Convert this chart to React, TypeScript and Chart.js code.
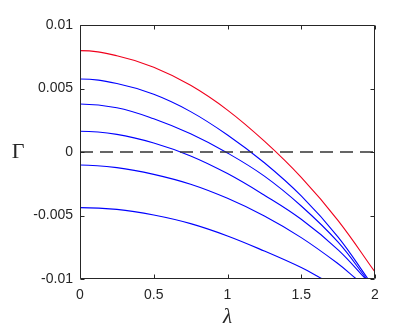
import React, { useEffect, useRef } from "react";
import { Chart, registerables } from "chart.js";

Chart.register(...registerables);

// λ values read at sample positions; blue curves end where they leave the axes (Γ = -0.01)
const redLambda = [0, 0.25, 0.5, 0.75, 1, 1.25, 1.5, 1.75, 2];
const redGamma = [0.00798, 0.00758, 0.00668, 0.00525, 0.0033, 0.00085, -0.002, -0.0054, -0.00945];

const blue1Lambda = [0, 0.25, 0.5, 0.75, 1, 1.25, 1.5, 1.75, 1.953];
const blue1Gamma = [0.00575, 0.00539, 0.00454, 0.00318, 0.00134, -0.00085, -0.00346, -0.0067, -0.01];

const blue2Lambda = [0, 0.25, 0.5, 0.75, 1, 1.25, 1.5, 1.75, 1.944];
const blue2Gamma = [0.00378, 0.00349, 0.00262, 0.00143, -0.00008, -0.0019, -0.00425, -0.0071, -0.01];

const blue3Lambda = [0, 0.25, 0.5, 0.75, 1, 1.25, 1.5, 1.75, 1.937];
const blue3Gamma = [0.00163, 0.00139, 0.00071, -0.00031, -0.0017, -0.0034, -0.0053, -0.0077, -0.01];

const blue4Lambda = [0, 0.25, 0.5, 0.75, 1, 1.25, 1.5, 1.75, 1.874];
const blue4Gamma = [-0.00102, -0.00123, -0.00176, -0.00254, -0.00365, -0.00504, -0.00674, -0.0088, -0.01];

const blue5Lambda = [0, 0.25, 0.5, 0.75, 1, 1.25, 1.5, 1.644];
const blue5Gamma = [-0.00438, -0.00452, -0.00496, -0.00564, -0.00661, -0.0078, -0.0091, -0.01];

const zeroLambda = [0, 2];
const zeroGamma = [0, 0];

const xTickValues = [0, 0.5, 1, 1.5, 2];
const xTickLabels = ["0", "0.5", "1", "1.5", "2"];
const yTickValues = [-0.01, -0.005, 0, 0.005, 0.01];
const yTickLabels = ["-0.01", "-0.005", "0", "0.005", "0.01"];

const xTitle = "λ";
const yTitle = "Γ";

const toPoints = (xs: number[], ys: number[]) => xs.map((x, i) => ({ x, y: ys[i] }));

const AXIS_COLOR = "#262626";

// curves leave λ = 0 horizontally: flatten the first bezier handle of each curve
const flatStartPlugin = {
  id: "flatStart",
  beforeDatasetDraw(chart: any, args: any) {
    const meta = args.meta;
    const line = meta.dataset;
    if (!line || !meta.data || meta.data.length < 3 || !line.options || !line.options.tension) return;
    line.updateControlPoints(chart.chartArea, "x");
    const p0 = meta.data[0];
    const p1 = meta.data[1];
    p0.cp2x = p0.x + (p1.x - p0.x) / 2.5;
    p0.cp2y = p0.y;
  },
};

const framePlugin = {
  id: "frame",
  afterDatasetsDraw(chart: any) {
    const { ctx, chartArea: a, scales } = chart;
    const xs = scales.x;
    const ys = scales.y;
    const L = Math.round(a.left) + 0.5;
    const R = Math.round(a.right) - 0.5;
    const T = Math.round(a.top) + 0.5;
    const B = Math.round(a.bottom) - 0.5;
    ctx.save();
    ctx.strokeStyle = AXIS_COLOR;
    ctx.lineWidth = 1;
    ctx.beginPath();
    ctx.moveTo(L, T);
    ctx.lineTo(R, T);
    ctx.lineTo(R, B);
    ctx.lineTo(L, B);
    ctx.closePath();
    ctx.stroke();
    const tl = 4;
    ctx.beginPath();
    xTickValues.forEach((v) => {
      const px = Math.round(xs.getPixelForValue(v)) + 0.5;
      ctx.moveTo(px, B);
      ctx.lineTo(px, B - tl);
      ctx.moveTo(px, T);
      ctx.lineTo(px, T + tl);
    });
    yTickValues.forEach((v) => {
      const py = Math.round(ys.getPixelForValue(v)) + 0.5;
      ctx.moveTo(L, py);
      ctx.lineTo(L + tl, py);
      ctx.moveTo(R, py);
      ctx.lineTo(R - tl, py);
    });
    ctx.stroke();
    ctx.restore();
  },
  afterDraw(chart: any) {
    const { ctx, chartArea: a } = chart;
    ctx.save();
    ctx.fillStyle = AXIS_COLOR;
    ctx.font = '22px "Liberation Serif"';
    ctx.textAlign = "center";
    ctx.textBaseline = "middle";
    ctx.fillText(yTitle, 18, (a.top + a.bottom) / 2);
    ctx.restore();
  },
};

export default function App() {
  const ref = useRef<HTMLCanvasElement | null>(null);

  useEffect(() => {
    if (!ref.current) return;
    const line = (xs: number[], ys: number[], color: string) => ({
      data: toPoints(xs, ys),
      borderColor: color,
      borderWidth: 1.1,
      pointRadius: 0,
      fill: false,
      tension: 0.4,
    });
    const chart = new Chart(ref.current, {
      type: "line",
      data: {
        datasets: [
          {
            data: toPoints(zeroLambda, zeroGamma),
            borderColor: "#333333",
            borderWidth: 1.3,
            borderDash: [13, 7],
            pointRadius: 0,
            fill: false,
            tension: 0,
          },
          line(redLambda, redGamma, "#f0001c"),
          line(blue1Lambda, blue1Gamma, "#0000ff"),
          line(blue2Lambda, blue2Gamma, "#0000ff"),
          line(blue3Lambda, blue3Gamma, "#0000ff"),
          line(blue4Lambda, blue4Gamma, "#0000ff"),
          line(blue5Lambda, blue5Gamma, "#0000ff"),
        ] as any,
      },
      options: {
        animation: false,
        responsive: false,
        devicePixelRatio: 1,
        layout: { padding: { left: 0, right: 40, top: 25, bottom: 0 } },
        plugins: { legend: { display: false }, tooltip: { enabled: false } },
        scales: {
          x: {
            type: "linear",
            min: 0,
            max: 2,
            afterFit: (s: any) => {
              s.height = 54;
            },
            afterBuildTicks: (s: any) => {
              s.ticks = xTickValues.map((v) => ({ value: v }));
            },
            ticks: {
              color: AXIS_COLOR,
              font: { family: '"Liberation Sans"', size: 14 },
              padding: 8,
              maxRotation: 0,
              callback: (v: any) => {
                const i = xTickValues.findIndex((t) => Math.abs(t - Number(v)) < 1e-9);
                return i >= 0 ? xTickLabels[i] : "";
              },
            },
            grid: { display: false, drawTicks: false },
            border: { display: false },
            title: {
              display: true,
              text: xTitle,
              color: AXIS_COLOR,
              font: { family: '"Liberation Serif"', size: 21, style: "italic" },
              padding: { top: 0, bottom: 3 },
            },
          },
          y: {
            type: "linear",
            min: -0.01,
            max: 0.01,
            afterFit: (s: any) => {
              s.width = 80;
            },
            afterBuildTicks: (s: any) => {
              s.ticks = yTickValues.map((v) => ({ value: v }));
            },
            ticks: {
              color: AXIS_COLOR,
              font: { family: '"Liberation Sans"', size: 14 },
              padding: 7,
              callback: (v: any) => {
                const i = yTickValues.findIndex((t) => Math.abs(t - Number(v)) < 1e-9);
                return i >= 0 ? yTickLabels[i] : "";
              },
            },
            grid: { display: false, drawTicks: false },
            border: { display: false },
          },
        },
      },
      plugins: [flatStartPlugin, framePlugin],
    });
    return () => chart.destroy();
  }, []);

  return (
    <div style={{ position: "absolute", left: 0, top: 0, width: 415, height: 333, background: "#fff" }}>
      <canvas ref={ref} width={415} height={333} style={{ display: "block" }} />
    </div>
  );
}
